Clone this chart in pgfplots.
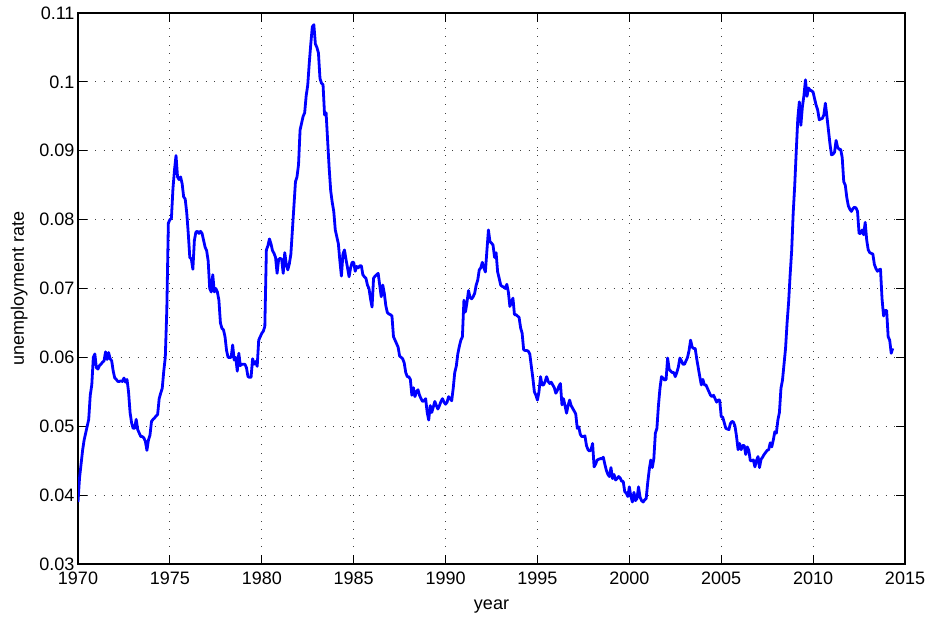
\documentclass[border=0pt]{standalone}
\usepackage{fontspec}
\setmainfont{Liberation Sans}
\usepackage{pgfplots}
\usepackage{pgfplotstable}
\pgfplotsset{compat=1.18}
% monthly unemployment rate in percent, starting January 1970
\pgfplotstableread[row sep=\\]{
u\\
3.9\\4.25\\4.45\\4.65\\4.8\\4.9\\5.0\\5.1\\5.45\\5.6\\6.0\\6.05\\
5.85\\5.83\\5.88\\5.9\\5.93\\5.95\\6.08\\5.97\\6.07\\5.98\\5.95\\5.8\\
5.7\\5.68\\5.65\\5.65\\5.66\\5.65\\5.7\\5.64\\5.68\\5.5\\5.2\\5.05\\
4.97\\4.97\\5.1\\4.95\\4.9\\4.85\\4.85\\4.83\\4.78\\4.65\\4.8\\4.87\\
5.07\\5.1\\5.12\\5.15\\5.17\\5.4\\5.48\\5.55\\5.8\\6.0\\6.7\\7.95\\
8.0\\8.02\\8.45\\8.72\\8.93\\8.62\\8.58\\8.62\\8.52\\8.33\\8.3\\8.1\\
7.8\\7.45\\7.43\\7.28\\7.7\\7.82\\7.83\\7.8\\7.83\\7.8\\7.7\\7.6\\
7.55\\7.4\\7.0\\6.95\\7.2\\6.95\\7.0\\6.95\\6.83\\6.5\\6.42\\6.4\\
6.3\\6.1\\6.0\\6.0\\6.0\\6.18\\5.96\\6.0\\5.8\\6.06\\5.88\\5.9\\
5.9\\5.9\\5.85\\5.72\\5.71\\5.71\\5.98\\5.9\\5.94\\5.87\\6.25\\6.3\\
6.35\\6.38\\6.45\\7.56\\7.62\\7.72\\7.65\\7.55\\7.51\\7.45\\7.22\\7.42\\
7.44\\7.42\\7.22\\7.52\\7.35\\7.27\\7.36\\7.5\\7.85\\8.2\\8.55\\8.62\\
8.8\\9.3\\9.4\\9.5\\9.55\\9.8\\9.95\\10.27\\10.55\\10.8\\10.83\\10.55\\
10.5\\10.42\\10.05\\9.98\\9.96\\9.52\\9.55\\9.15\\8.75\\8.42\\8.25\\8.12\\
7.85\\7.75\\7.65\\7.4\\7.18\\7.5\\7.56\\7.42\\7.3\\7.17\\7.3\\7.38\\
7.38\\7.25\\7.32\\7.3\\7.33\\7.33\\7.2\\7.17\\7.15\\7.05\\7.0\\6.85\\
6.73\\7.15\\7.18\\7.2\\7.22\\7.05\\6.88\\7.05\\6.93\\6.75\\6.65\\6.63\\
6.62\\6.6\\6.3\\6.25\\6.2\\6.15\\6.02\\6.0\\5.98\\5.92\\5.78\\5.72\\
5.72\\5.68\\5.45\\5.56\\5.43\\5.5\\5.53\\5.45\\5.4\\5.36\\5.37\\5.4\\
5.2\\5.09\\5.3\\5.2\\5.28\\5.36\\5.3\\5.25\\5.3\\5.36\\5.4\\5.35\\
5.32\\5.35\\5.43\\5.4\\5.37\\5.55\\5.78\\5.87\\6.05\\6.16\\6.25\\6.3\\
6.83\\6.66\\6.8\\6.97\\6.87\\6.85\\6.88\\6.93\\7.05\\7.12\\7.27\\7.3\\
7.38\\7.3\\7.24\\7.55\\7.85\\7.68\\7.66\\7.63\\7.45\\7.52\\7.24\\7.15\\
7.05\\7.03\\7.02\\7.0\\7.06\\6.95\\6.74\\6.8\\6.86\\6.62\\6.62\\6.6\\
6.58\\6.43\\6.35\\6.11\\6.1\\6.1\\6.09\\6.05\\5.87\\5.7\\5.5\\5.45\\
5.38\\5.5\\5.72\\5.6\\5.6\\5.65\\5.72\\5.65\\5.62\\5.64\\5.6\\5.56\\
5.48\\5.52\\5.58\\5.62\\5.31\\5.4\\5.3\\5.19\\5.3\\5.38\\5.3\\5.26\\
5.22\\5.18\\4.97\\4.99\\4.88\\4.85\\4.85\\4.86\\4.72\\4.66\\4.64\\4.66\\
4.75\\4.41\\4.45\\4.51\\4.52\\4.53\\4.53\\4.55\\4.45\\4.36\\4.3\\4.27\\
4.4\\4.24\\4.3\\4.22\\4.24\\4.27\\4.25\\4.2\\4.2\\4.05\\4.03\\3.98\\
4.12\\3.98\\3.9\\4.04\\3.92\\3.95\\4.12\\3.97\\3.92\\3.9\\3.93\\3.95\\
4.18\\4.37\\4.51\\4.4\\4.53\\4.9\\4.97\\5.3\\5.55\\5.72\\5.7\\5.67\\
5.68\\5.99\\5.83\\5.8\\5.78\\5.78\\5.72\\5.78\\5.86\\5.99\\5.95\\5.9\\
5.9\\5.95\\6.0\\6.1\\6.25\\6.15\\6.13\\6.13\\5.98\\5.85\\5.72\\5.6\\
5.68\\5.6\\5.6\\5.55\\5.5\\5.45\\5.43\\5.45\\5.4\\5.35\\5.38\\5.38\\
5.14\\5.13\\5.05\\4.97\\4.96\\4.95\\5.04\\5.07\\5.06\\5.0\\4.85\\4.66\\
4.75\\4.66\\4.72\\4.72\\4.59\\4.7\\4.65\\4.5\\4.5\\4.51\\4.41\\4.5\\
4.56\\4.4\\4.52\\4.55\\4.59\\4.62\\4.65\\4.66\\4.76\\4.7\\4.8\\4.92\\
4.9\\5.09\\5.2\\5.55\\5.67\\5.9\\6.13\\6.5\\6.8\\7.2\\7.55\\8.1\\
8.5\\9.0\\9.47\\9.71\\9.37\\9.64\\9.8\\10.03\\9.79\\9.91\\9.88\\9.87\\
9.85\\9.75\\9.66\\9.59\\9.45\\9.46\\9.47\\9.52\\9.69\\9.5\\9.3\\9.1\\
8.94\\8.95\\8.98\\9.15\\9.05\\9.02\\9.02\\8.9\\8.55\\8.5\\8.32\\8.2\\
8.15\\8.12\\8.16\\8.18\\8.17\\8.12\\7.8\\7.8\\7.85\\7.78\\7.96\\7.7\\
7.56\\7.52\\7.51\\7.5\\7.35\\7.29\\7.25\\7.27\\7.28\\6.85\\6.6\\6.68\\
6.68\\6.3\\6.25\\6.06\\6.13\\
}\urate
\begin{document}
\begin{tikzpicture}
\begin{axis}[
  at={(0,0)}, anchor=south west,
  width=827pt, height=551pt, scale only axis,
  xmin=1970, xmax=2015, ymin=0.03, ymax=0.11,
  xtick={1970,1975,1980,1985,1990,1995,2000,2005,2010,2015},
  ytick={0.03,0.04,0.05,0.06,0.07,0.08,0.09,0.1,0.11},
  minor tick num=0,
  scaled y ticks=false, scaled x ticks=false,
  /pgf/number format/assume math mode=true,
  xticklabel style={/pgf/number format/1000 sep={}, yshift=-4pt},
  yticklabel style={/pgf/number format/fixed, /pgf/number format/precision=2},
  every tick label/.append style={font=\fontsize{18}{21}\selectfont, text=black},
  label style={font=\fontsize{18}{21}\selectfont},
  tick align=inside, tick pos=both,
  major tick length=9pt,
  every tick/.style={black, line width=0.9pt},
  axis line style={black, line width=1.5pt},
  grid=major,
  major grid style={black!75, line width=0.9pt, dash pattern=on 0.9pt off 7.6pt},
  xlabel={year}, ylabel={unemployment rate},
  xlabel style={at={(axis description cs:0.5,0)}, anchor=base, yshift=-46pt},
  ylabel style={at={(axis description cs:0,0.5)}, anchor=base, yshift=54pt},
]
\addplot[color={rgb,1:red,0;green,0;blue,1}, line width=2.8pt, line join=round, mark=none]
  table[x index=0, y index=0, x expr={1970+\coordindex/12}, y expr={\thisrowno{0}/100}] {\urate};
\end{axis}
\pgfresetboundingbox
\path ([shift={(-78pt,-54pt)}]current axis.south west) rectangle ([shift={(27pt,13pt)}]current axis.north east);
\end{tikzpicture}
\end{document}
